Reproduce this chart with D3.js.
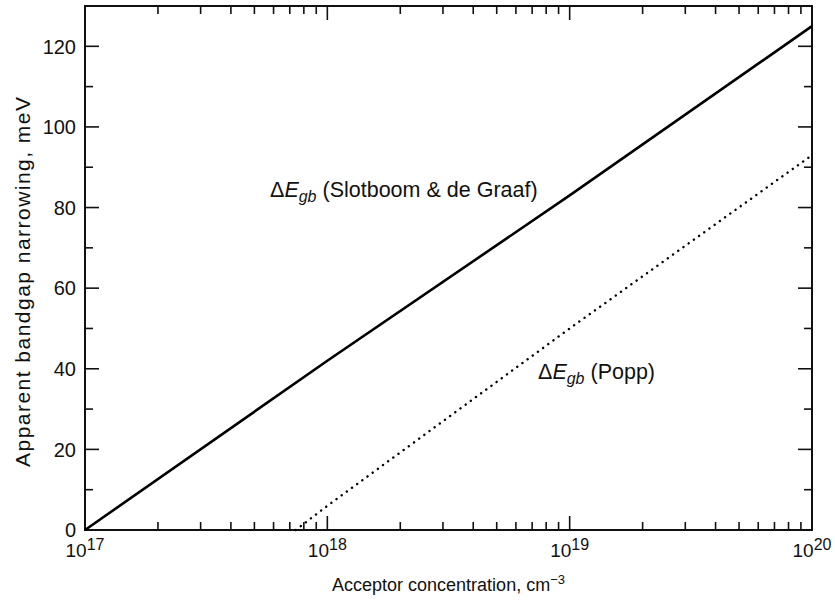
<!DOCTYPE html>
<html>
<head>
<meta charset="utf-8">
<script src="https://cdn.jsdelivr.net/npm/d3@7"></script>
<style>
  body { margin: 0; background: #fff; }
  text { font-family: "Liberation Sans", Arial, sans-serif; fill: #111; }
</style>
</head>
<body>
<div id="container"></div>
<script>
/* DATA */
const slotboomConc = [1e17, 1e18, 1e19, 1e20];
const slotboomMeV = [0, 42, 83, 125];
const poppConc = [7.4e17, 1e18, 1e19, 1e20];
const poppMeV = [0, 6, 50, 93];
const yTicks = [0, 20, 40, 60, 80, 100, 120];
const xTickExps = [17, 18, 19, 20];

/* CONSTANTS */
const W = 835, H = 601;
const margin = { top: 6, right: 23, bottom: 71, left: 85 };
const width = W - margin.left - margin.right;
const height = H - margin.top - margin.bottom;

const svg = d3.select('#container')
  .append('svg')
  .attr('width', W)
  .attr('height', H);

const chart = svg.append('g')
  .attr('transform', `translate(${margin.left}, ${margin.top})`);

const xScale = d3.scaleLog()
  .domain([1e17, 1e20])
  .range([0, width]);

const yScale = d3.scaleLinear()
  .domain([0, 130])
  .range([height, 0]);

// minor ticks
const xMinor = [];
for (let e = 17; e < 20; e++) {
  for (let m = 2; m <= 9; m++) xMinor.push(m * Math.pow(10, e));
}
const yMinor = d3.range(10, 130, 20);

// axes: ticks pointing inward on all four sides
const axBottom = chart.append('g')
  .attr('transform', `translate(0, ${height})`);
const axTop = chart.append('g');
const axLeft = chart.append('g');
const axRight = chart.append('g').attr('transform', `translate(${width}, 0)`);

[[axBottom, -1], [axTop, 1]].forEach(([g, dir]) => {
  g.selectAll('line.major')
    .data(xTickExps.map(e => Math.pow(10, e)))
    .join('line')
    .attr('class', 'major')
    .attr('x1', d => xScale(d)).attr('x2', d => xScale(d))
    .attr('y1', 0).attr('y2', dir * 14);
  g.selectAll('line.minor')
    .data(xMinor)
    .join('line')
    .attr('class', 'minor')
    .attr('x1', d => xScale(d)).attr('x2', d => xScale(d))
    .attr('y1', 0).attr('y2', dir * 8);
});

[[axLeft, 1], [axRight, -1]].forEach(([g, dir]) => {
  g.selectAll('line.major')
    .data(yTicks)
    .join('line')
    .attr('class', 'major')
    .attr('y1', d => yScale(d)).attr('y2', d => yScale(d))
    .attr('x1', 0).attr('x2', dir * 14);
  g.selectAll('line.minor')
    .data(yMinor)
    .join('line')
    .attr('class', 'minor')
    .attr('y1', d => yScale(d)).attr('y2', d => yScale(d))
    .attr('x1', 0).attr('x2', dir * 8);
});

chart.selectAll('g line')
  .attr('stroke', '#111')
  .attr('stroke-width', 1.6);

// frame
chart.append('rect')
  .attr('x', 0).attr('y', 0)
  .attr('width', width).attr('height', height)
  .attr('fill', 'none')
  .attr('stroke', '#111')
  .attr('stroke-width', 2);

// y tick labels
axLeft.selectAll('text')
  .data(yTicks)
  .join('text')
  .attr('x', -9)
  .attr('y', d => yScale(d))
  .attr('dy', '0.36em')
  .attr('text-anchor', 'end')
  .attr('font-size', '20px')
  .text(d => d);

// x tick labels with superscript
axBottom.selectAll('text')
  .data(xTickExps)
  .join('text')
  .attr('x', d => xScale(Math.pow(10, d)))
  .attr('y', 27)
  .attr('text-anchor', 'middle')
  .attr('font-size', '19px')
  .each(function (d) {
    const t = d3.select(this);
    t.append('tspan').text('10');
    t.append('tspan').attr('dy', -7).attr('font-size', '16px').text(d);
  });

// lines
const line = d3.line()
  .x(d => xScale(d[0]))
  .y(d => yScale(d[1]));

chart.append('path')
  .datum(slotboomConc.map((c, i) => [c, slotboomMeV[i]]))
  .attr('d', line)
  .attr('fill', 'none')
  .attr('stroke', '#000')
  .attr('stroke-width', 2.6);

chart.append('path')
  .datum(poppConc.map((c, i) => [c, poppMeV[i]]))
  .attr('d', line)
  .attr('fill', 'none')
  .attr('stroke', '#000')
  .attr('stroke-width', 2.4)
  .attr('stroke-linecap', 'round')
  .attr('stroke-dasharray', '0.1 6.3');

// curve labels
function curveLabel(x, y, rest) {
  const t = svg.append('text')
    .attr('x', x).attr('y', y)
    .attr('font-size', '21.5px');
  t.append('tspan').text('\u0394');
  t.append('tspan').attr('font-style', 'italic').text('E');
  t.append('tspan').attr('font-style', 'italic').attr('font-size', '16px').attr('dy', 5).text('gb');
  t.append('tspan').attr('dy', -5).text(' ' + rest);
}
curveLabel(270, 197, '(Slotboom & de Graaf)');
curveLabel(538, 379, '(Popp)');

// axis titles
const xt = svg.append('text')
  .attr('x', margin.left + width / 2)
  .attr('y', 591)
  .attr('text-anchor', 'middle')
  .attr('font-size', '18px');
xt.append('tspan').text('Acceptor concentration, cm');
xt.append('tspan').attr('dy', -7).attr('font-size', '13px').text('\u22123');

svg.append('text')
  .attr('transform', 'rotate(-90)')
  .attr('x', -282)
  .attr('y', 30)
  .attr('text-anchor', 'middle')
  .attr('font-size', '21px')
  .attr('textLength', 370)
  .attr('lengthAdjust', 'spacing')
  .text('Apparent bandgap narrowing, meV');
</script>
</body>
</html>
